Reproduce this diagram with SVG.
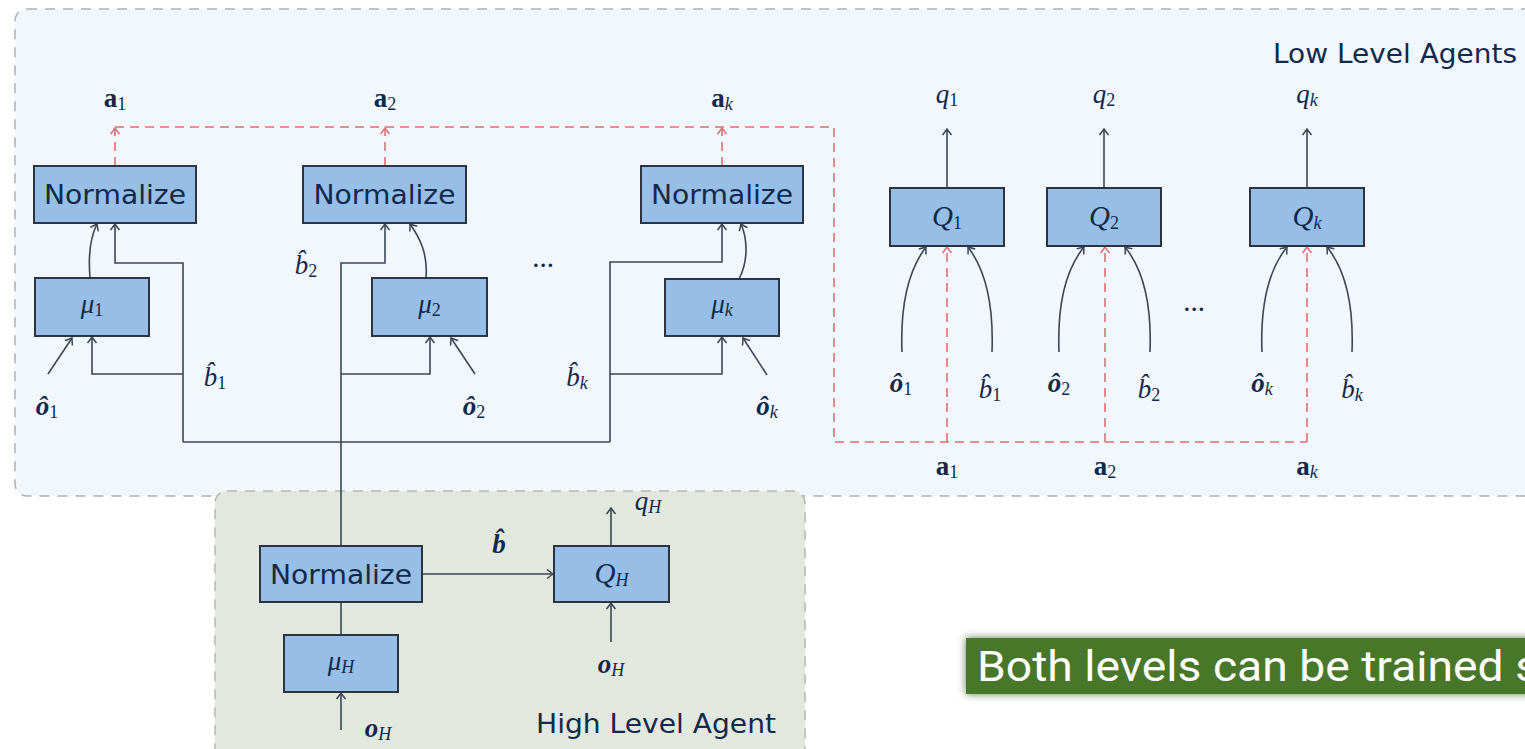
<svg xmlns="http://www.w3.org/2000/svg" width="1525" height="749" viewBox="0 0 1525 749">
  <style>
    .panel-low { fill: #f1f7fc; stroke: #a9b1ba; stroke-width: 1.5; stroke-dasharray: 10 8; }
    .panel-high { fill: #e2e8dd; stroke: #b3bab0; stroke-width: 1.5; stroke-dasharray: 10 8; }
    .box { fill: #97bee6; stroke: #2c3440; stroke-width: 2; }
    .line { fill: none; stroke: #3b4656; stroke-width: 1.6; }
    .red { fill: none; stroke: #e07070; stroke-width: 1.6; stroke-dasharray: 9 6; }
    .sans { font-family: "DejaVu Sans", Verdana, sans-serif; fill: #13294b; }
    .norm { font-size: 27px; text-anchor: middle; }
    .title { font-size: 26px; }
    .math { font-family: "Liberation Serif", "Times New Roman", serif; fill: #13294b; font-size: 27px; text-anchor: middle; }
    .big { font-size: 29px; }
    .it { font-style: italic; }
    .bf { font-weight: bold; }
    .bi { font-weight: bold; font-style: italic; }
    .sub { font-size: 18px; font-weight: normal; }
    .banner-text { font-family: Roboto, "Noto Sans", sans-serif; font-size: 42px; fill: #ffffff; }
  </style>
  <defs>
    <marker id="arr" viewBox="-8 -6 10 12" markerWidth="10" markerHeight="12" refX="0" refY="0" orient="auto" markerUnits="userSpaceOnUse">
      <path d="M-6,-4.5 Q-1.5,-1 0,0 Q-1.5,1 -6,4.5" fill="none" stroke="#3b4656" stroke-width="1.5"/>
    </marker>
    <marker id="arr-red" viewBox="-8 -6 10 12" markerWidth="10" markerHeight="12" refX="0" refY="0" orient="auto" markerUnits="userSpaceOnUse">
      <path d="M-6,-4.5 Q-1.5,-1 0,0 Q-1.5,1 -6,4.5" fill="none" stroke="#e07070" stroke-width="1.5"/>
    </marker>
    <filter id="soft-shadow" x="-10%" y="-50%" width="120%" height="200%">
      <feGaussianBlur in="SourceAlpha" stdDeviation="4.5" result="blur"/>
      <feFlood flood-color="#3a5a22" flood-opacity="0.8"/>
      <feComposite in2="blur" operator="in" result="shadow"/>
      <feMerge>
        <feMergeNode in="shadow"/>
        <feMergeNode in="SourceGraphic"/>
      </feMerge>
    </filter>
  </defs>

  <rect width="1525" height="749" fill="#ffffff"/>

  <!-- agent group frames -->
  <g id="low-level-panel">
    <rect class="panel-low" x="15" y="9" width="1540" height="487" rx="12"/>
    <text class="sans title" x="1273" y="63" textLength="244" lengthAdjust="spacingAndGlyphs">Low Level Agents</text>
  </g>
  <g id="high-level-panel">
    <rect class="panel-high" x="215" y="491" width="590" height="275" rx="12"/>
    <text class="sans title" x="536" y="733" textLength="240" lengthAdjust="spacingAndGlyphs">High Level Agent</text>
  </g>

  <!-- connectors -->
  <g id="connectors">
    <!-- shared belief bus -->
    <path class="line" d="M183,442 H610"/>
    <path class="line" d="M341,546 V263 H385 V224" marker-end="url(#arr)"/>
    <path class="line" d="M341,374 H430 V337" marker-end="url(#arr)"/>
    <path class="line" d="M183,442 V263 H115 V224" marker-end="url(#arr)"/>
    <path class="line" d="M183,374 H92 V337" marker-end="url(#arr)"/>
    <path class="line" d="M610,442 V262 H722 V224" marker-end="url(#arr)"/>
    <path class="line" d="M610,374 H722 V337" marker-end="url(#arr)"/>
    <!-- observations into policies -->
    <path class="line" d="M48,374 L72,338" marker-end="url(#arr)"/>
    <path class="line" d="M475,374 L451,338" marker-end="url(#arr)"/>
    <path class="line" d="M767,375 L743,338" marker-end="url(#arr)"/>
    <!-- policies into normalizers -->
    <path class="line" d="M90,278 C88,254 90,238 97,224" marker-end="url(#arr)"/>
    <path class="line" d="M426,278 C428,254 420,238 410,224" marker-end="url(#arr)"/>
    <path class="line" d="M739,279 C748,262 748,240 741,224" marker-end="url(#arr)"/>
    <!-- critic outputs -->
    <path class="line" d="M947,188 V129" marker-end="url(#arr)"/>
    <path class="line" d="M1104,188 V129" marker-end="url(#arr)"/>
    <path class="line" d="M1307,188 V129" marker-end="url(#arr)"/>
    <!-- critic inputs -->
    <path class="line" d="M902,352 C900,300 910,268 926,247" marker-end="url(#arr)"/>
    <path class="line" d="M992,352 C994,300 984,268 968,247" marker-end="url(#arr)"/>
    <path class="line" d="M1059,352 C1057,300 1067,268 1084,247" marker-end="url(#arr)"/>
    <path class="line" d="M1150,352 C1152,300 1142,268 1125,247" marker-end="url(#arr)"/>
    <path class="line" d="M1262,352 C1260,300 1270,268 1287,247" marker-end="url(#arr)"/>
    <path class="line" d="M1352,352 C1354,300 1344,268 1327,247" marker-end="url(#arr)"/>
    <!-- high level agent -->
    <path class="line" d="M422,574 H553" marker-end="url(#arr)"/>
    <path class="line" d="M611,546 V508" marker-end="url(#arr)"/>
    <path class="line" d="M611,642 V603" marker-end="url(#arr)"/>
    <path class="line" d="M341,635 V602"/>
    <path class="line" d="M341,730 V693" marker-end="url(#arr)"/>
    <!-- joint actions routed to critics -->
    <path class="red" d="M115,127 H834 V442 H1307"/>
    <path class="red" d="M115,166 V128" marker-end="url(#arr-red)"/>
    <path class="red" d="M385,166 V128" marker-end="url(#arr-red)"/>
    <path class="red" d="M722,166 V128" marker-end="url(#arr-red)"/>
    <path class="red" d="M947,442 V247" marker-end="url(#arr-red)"/>
    <path class="red" d="M1105,442 V247" marker-end="url(#arr-red)"/>
    <path class="red" d="M1307,442 V247" marker-end="url(#arr-red)"/>
  </g>

  <!-- low level nodes -->
  <g id="normalize-1">
    <rect class="box" x="34" y="166" width="162" height="57"/>
    <text class="sans norm" x="115" y="204" textLength="142" lengthAdjust="spacingAndGlyphs">Normalize</text>
  </g>
  <g id="normalize-2">
    <rect class="box" x="303" y="166" width="163" height="57"/>
    <text class="sans norm" x="384.5" y="204" textLength="142" lengthAdjust="spacingAndGlyphs">Normalize</text>
  </g>
  <g id="normalize-k">
    <rect class="box" x="641" y="166" width="162" height="57"/>
    <text class="sans norm" x="722" y="204" textLength="142" lengthAdjust="spacingAndGlyphs">Normalize</text>
  </g>
  <g id="mu-1">
    <rect class="box" x="35" y="278" width="114" height="58"/>
    <text class="math" x="92" y="313"><tspan class="it">μ</tspan><tspan class="sub" dy="3">1</tspan></text>
  </g>
  <g id="mu-2">
    <rect class="box" x="372" y="278" width="115" height="58"/>
    <text class="math" x="429.5" y="313"><tspan class="it">μ</tspan><tspan class="sub" dy="3">2</tspan></text>
  </g>
  <g id="mu-k">
    <rect class="box" x="665" y="279" width="114" height="57"/>
    <text class="math" x="722" y="313"><tspan class="it">μ</tspan><tspan class="sub it" dy="3">k</tspan></text>
  </g>
  <g id="q-1">
    <rect class="box" x="890" y="188" width="114" height="58"/>
    <text class="math big" x="947" y="226"><tspan class="it">Q</tspan><tspan class="sub" dy="3">1</tspan></text>
  </g>
  <g id="q-2">
    <rect class="box" x="1047" y="188" width="114" height="58"/>
    <text class="math big" x="1104" y="226"><tspan class="it">Q</tspan><tspan class="sub" dy="3">2</tspan></text>
  </g>
  <g id="q-k">
    <rect class="box" x="1250" y="188" width="114" height="58"/>
    <text class="math big" x="1307" y="226"><tspan class="it">Q</tspan><tspan class="sub it" dy="3">k</tspan></text>
  </g>

  <!-- high level nodes -->
  <g id="normalize-h">
    <rect class="box" x="260" y="546" width="162" height="56"/>
    <text class="sans norm" x="341" y="584" textLength="142" lengthAdjust="spacingAndGlyphs">Normalize</text>
  </g>
  <g id="q-h">
    <rect class="box" x="554" y="546" width="115" height="56"/>
    <text class="math big" x="611.5" y="583"><tspan class="it">Q</tspan><tspan class="sub it" dy="3">H</tspan></text>
  </g>
  <g id="mu-h">
    <rect class="box" x="284" y="635" width="114" height="57"/>
    <text class="math" x="341" y="670"><tspan class="it">μ</tspan><tspan class="sub it" dy="3">H</tspan></text>
  </g>

  <!-- signal labels -->
  <g id="labels">
    <text class="math" x="115" y="107"><tspan class="bf">a</tspan><tspan class="sub" dy="3">1</tspan></text>
    <text class="math" x="385" y="107"><tspan class="bf">a</tspan><tspan class="sub" dy="3">2</tspan></text>
    <text class="math" x="722" y="107"><tspan class="bf">a</tspan><tspan class="sub it" dy="3">k</tspan></text>
    <text class="math" x="947" y="103"><tspan class="it">q</tspan><tspan class="sub" dy="3">1</tspan></text>
    <text class="math" x="1104" y="103"><tspan class="it">q</tspan><tspan class="sub" dy="3">2</tspan></text>
    <text class="math" x="1307" y="103"><tspan class="it">q</tspan><tspan class="sub it" dy="3">k</tspan></text>

    <text class="math" x="47" y="415"><tspan class="bi">ô</tspan><tspan class="sub" dy="3">1</tspan></text>
    <text class="math" x="215" y="386"><tspan class="it">b̂</tspan><tspan class="sub" dy="3">1</tspan></text>
    <text class="math" x="306" y="274"><tspan class="it">b̂</tspan><tspan class="sub" dy="3">2</tspan></text>
    <text class="math" x="474" y="415"><tspan class="bi">ô</tspan><tspan class="sub" dy="3">2</tspan></text>
    <text class="math" x="577" y="386"><tspan class="it">b̂</tspan><tspan class="sub it" dy="3">k</tspan></text>
    <text class="math" x="767" y="415"><tspan class="bi">ô</tspan><tspan class="sub it" dy="3">k</tspan></text>
    <text class="math big" x="543" y="267">...</text>

    <text class="math" x="901" y="392"><tspan class="bi">ô</tspan><tspan class="sub" dy="3">1</tspan></text>
    <text class="math" x="990" y="398"><tspan class="it">b̂</tspan><tspan class="sub" dy="3">1</tspan></text>
    <text class="math" x="1059" y="392"><tspan class="bi">ô</tspan><tspan class="sub" dy="3">2</tspan></text>
    <text class="math" x="1149" y="398"><tspan class="it">b̂</tspan><tspan class="sub" dy="3">2</tspan></text>
    <text class="math" x="1262" y="392"><tspan class="bi">ô</tspan><tspan class="sub it" dy="3">k</tspan></text>
    <text class="math" x="1352" y="398"><tspan class="it">b̂</tspan><tspan class="sub it" dy="3">k</tspan></text>
    <text class="math big" x="1194" y="311">...</text>

    <text class="math" x="947" y="475"><tspan class="bf">a</tspan><tspan class="sub" dy="3">1</tspan></text>
    <text class="math" x="1105" y="475"><tspan class="bf">a</tspan><tspan class="sub" dy="3">2</tspan></text>
    <text class="math" x="1307" y="475"><tspan class="bf">a</tspan><tspan class="sub it" dy="3">k</tspan></text>

    <text class="math" x="499" y="553"><tspan class="bi">b̂</tspan></text>
    <text class="math" x="648" y="510"><tspan class="it">q</tspan><tspan class="sub it" dy="3">H</tspan></text>
    <text class="math" x="611" y="673"><tspan class="bi">o</tspan><tspan class="sub it" dy="3">H</tspan></text>
    <text class="math" x="378" y="737"><tspan class="bi">o</tspan><tspan class="sub it" dy="3">H</tspan></text>
  </g>

  <!-- caption banner -->
  <g id="banner">
    <rect x="966" y="638" width="580" height="56" fill="#4a7729" filter="url(#soft-shadow)"/>
    <text class="banner-text" x="977" y="681" textLength="562" lengthAdjust="spacingAndGlyphs">Both levels can be trained s</text>
  </g>
</svg>
